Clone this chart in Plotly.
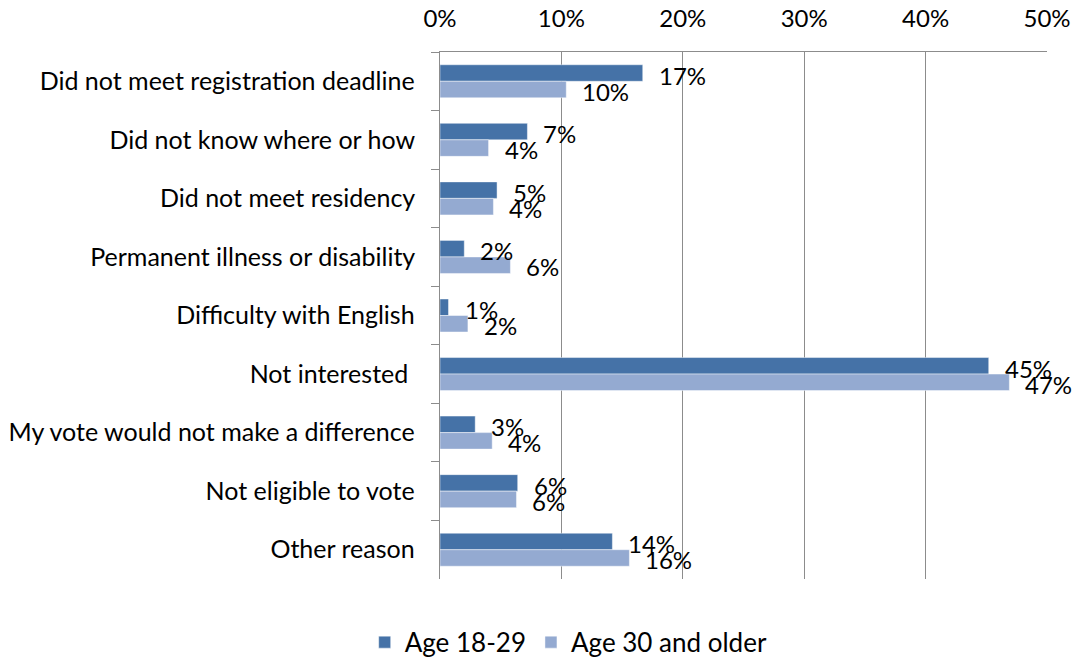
import plotly.graph_objects as go

categories = [
    "Did not meet registration deadline",
    "Did not know where or how",
    "Did not meet residency",
    "Permanent illness or disability",
    "Difficulty with English",
    "Not interested ",
    "My vote would not make a difference",
    "Not eligible to vote",
    "Other reason",
]
age_18_29 = [16.7, 7.2, 4.7, 2.0, 0.7, 45.2, 2.9, 6.4, 14.2]
age_30_older = [10.4, 4.0, 4.4, 5.8, 2.3, 46.9, 4.3, 6.3, 15.6]
x_ticks = [0, 10, 20, 30, 40, 50]
x_tick_labels = ["0%", "10%", "20%", "30%", "40%", "50%"]

FONT = "Lato"
FS = 24
DARK = "#4572A7"
LIGHT = "#94AAD1"

fig = go.Figure()
fig.add_trace(go.Bar(y=categories, x=age_18_29, orientation="h", name="Age 18-29",
                     marker=dict(color=DARK, line=dict(color="rgba(255,255,255,0.45)", width=1))))
fig.add_trace(go.Bar(y=categories, x=age_30_older, orientation="h", name="Age 30 and older",
                     marker=dict(color=LIGHT, line=dict(color="rgba(255,255,255,0.45)", width=1))))

annotations = []
for c, v in zip(categories, age_18_29):
    annotations.append(dict(x=v, y=c, xref="x", yref="y", text=f"{round(v)}%", showarrow=False,
                            xanchor="left", yanchor="middle", xshift=14, yshift=6,
                            font=dict(family=FONT, size=FS, color="black")))
for c, v in zip(categories, age_30_older):
    annotations.append(dict(x=v, y=c, xref="x", yref="y", text=f"{round(v)}%", showarrow=False,
                            xanchor="left", yanchor="middle", xshift=14, yshift=-10,
                            font=dict(family=FONT, size=FS, color="black")))

fig.update_layout(
    width=1075, height=658,
    margin=dict(l=440, r=28, t=52, b=79, autoexpand=False),
    paper_bgcolor="white", plot_bgcolor="white",
    barmode="group", bargap=0.436, bargroupgap=0,
    font=dict(family=FONT, size=FS, color="black"),
    showlegend=True,
    legend=dict(orientation="h", x=0.212, y=-0.12, xanchor="center", yanchor="middle",
                font=dict(family=FONT, size=26, color="black"), itemwidth=30,
                traceorder="normal"),
    annotations=annotations,
    xaxis=dict(side="top", range=[0, 50], tickvals=x_ticks, ticktext=x_tick_labels,
               automargin=False, ticklabelstandoff=14,
               showgrid=True, gridcolor="#8C8C8C", gridwidth=1.3,
               showline=True, linecolor="#8C8C8C", linewidth=1.3,
               ticks="", zeroline=False, tickfont=dict(family=FONT, size=FS, color="black")),
    yaxis=dict(autorange="reversed", automargin=False,
               showline=True, linecolor="#8C8C8C", linewidth=1.3,
               ticks="outside", tickson="boundaries", ticklen=8, tickcolor="#8C8C8C",
               tickwidth=1.3, showgrid=False, ticksuffix="\u00a0\u00a0\u00a0",
               tickfont=dict(family=FONT, size=25, color="black")),
)

fig.write_html("out.html", config={"displayModeBar": False},
               post_script="document.body.style.margin='0px';document.body.style.overflow='hidden';")
